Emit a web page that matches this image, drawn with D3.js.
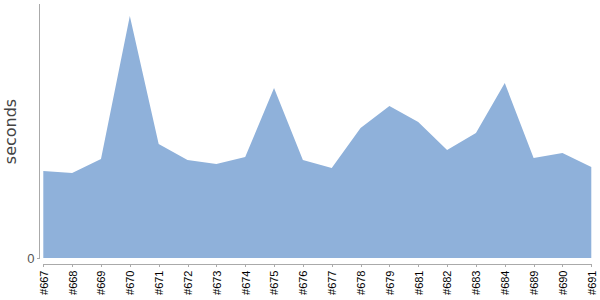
<!DOCTYPE html>
<html lang="en">
<head>
	<meta charset="utf-8">
	<title>Build times</title>
	<script type="text/javascript" src="https://cdn.jsdelivr.net/npm/d3@7"></script>
	<style type="text/css">
		body {
			margin: 0;
			background: #fff;
			font-family: "DejaVu Sans", Verdana, sans-serif;
		}
		.axis path, .axis line {
			fill: none;
			stroke: #aaa;
			shape-rendering: crispEdges;
		}
	</style>
</head>
<body>
	<div id='viz'></div>
	<script type="text/javascript">
	  const WIDTH = 600;
	  const HEIGHT = 300;

	  // build ids along the x axis
	  var builds = ['#667','#668','#669','#670','#671','#672','#673','#674','#675','#676',
	                '#677','#678','#679','#681','#682','#683','#684','#689','#690','#691'];
	  // duration of each build
	  var seconds = [87, 85, 99, 242, 114, 98, 94, 101, 170, 98,
	                 90, 130, 152, 136, 108, 125, 175, 100, 105, 91];
	  var yTicks = [0];

	  var data = builds.map(function(b, i) { return { build: b, s: seconds[i] }; });

	  var svg = d3.select('#viz')
	  	.append('svg')
	  	.attr('width', WIDTH)
	  	.attr('height', HEIGHT);

	  var x = d3.scalePoint()
	  	.domain(builds)
	  	.range([43.3, 591.3]);

	  var y = d3.scaleLinear()
	  	.domain([0, 254])
	  	.range([258, 4]);

	  // filled area
	  var area = d3.area()
	  	.x(function(d) { return x(d.build); })
	  	.y0(y(0))
	  	.y1(function(d) { return y(d.s); });

	  svg.append('path')
	  	.datum(data)
	  	.attr('fill', '#8fb1da')
	  	.attr('d', area);

	  // y axis
	  var yAxis = svg.append('g')
	  	.attr('class', 'axis')
	  	.attr('transform', 'translate(39.5,0)')
	  	.call(d3.axisLeft(y).tickValues(yTicks).tickSize(3).tickSizeOuter(0).tickFormat(d3.format('d')));
	  yAxis.select('.domain').attr('d', 'M0,4V259');
	  yAxis.selectAll('text')
	  	.attr('fill', '#555')
	  	.style('font-size', '13px')
	  	.attr('x', -5)
	  	.attr('dy', '0.35em');

	  // x axis
	  var xAxis = svg.append('g')
	  	.attr('class', 'axis')
	  	.attr('transform', 'translate(0,263.5)')
	  	.call(d3.axisBottom(x).tickSize(3).tickSizeOuter(0));
	  xAxis.selectAll('text')
	  	.attr('fill', '#000')
	  	.style('font-size', '11px')
	  	.attr('transform', 'rotate(-90)')
	  	.attr('text-anchor', 'end')
	  	.attr('x', -7)
	  	.attr('y', 0)
	  	.attr('dy', '0.35em');

	  // y label
	  svg.append('text')
	  	.attr('transform', 'translate(15.5,131.5) rotate(-90)')
	  	.attr('text-anchor', 'middle')
	  	.attr('fill', '#444')
	  	.style('font-size', '16px')
	  	.text('seconds');
	</script>
</body>
</html>
